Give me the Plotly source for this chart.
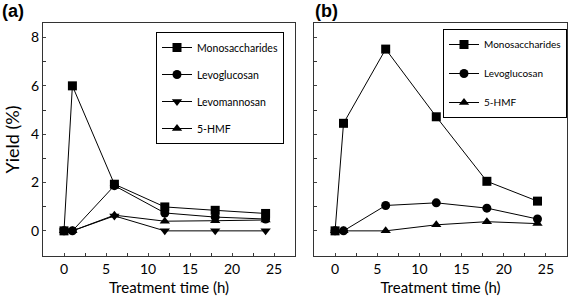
import plotly.graph_objects as go

# ---- data ----
time_a = [0, 1, 6, 12, 18, 24]
mono_a = [0, 6.0, 1.93, 0.99, 0.85, 0.72]
levoglu_a = [0, 0, 1.87, 0.74, 0.57, 0.49]
levoman_a = [0, 0, 0.62, 0, 0, 0]
hmf_a = [0, 0, 0.65, 0.40, 0.42, 0.45]

time_b = [0, 1, 6, 12, 18, 24]
mono_b = [0, 4.45, 7.52, 4.72, 2.05, 1.23]
levoglu_b = [0, 0, 1.05, 1.16, 0.94, 0.49]
hmf_b = [0, 0, 0, 0.25, 0.38, 0.30]

FONT = "Lato"
fig = go.Figure()

def add(x, y, name, symbol, xa, ya, leg, grp):
    fig.add_trace(go.Scatter(
        x=x, y=y, name=name, mode="lines+markers",
        line=dict(color="black", width=1),
        marker=dict(symbol=symbol, size=9, color="black"),
        xaxis=xa, yaxis=ya, legend=leg, legendgroup=grp))

add(time_a, mono_a, "Monosaccharides", "square", "x", "y", "legend", "a1")
add(time_a, levoglu_a, "Levoglucosan", "circle", "x", "y", "legend", "a2")
add(time_a, levoman_a, "Levomannosan", "triangle-down", "x", "y", "legend", "a3")
add(time_a, hmf_a, "5-HMF", "triangle-up", "x", "y", "legend", "a4")

add(time_b, mono_b, "Monosaccharides", "square", "x2", "y2", "legend2", "b1")
add(time_b, levoglu_b, "Levoglucosan", "circle", "x2", "y2", "legend2", "b2")
add(time_b, hmf_b, "5-HMF", "triangle-up", "x2", "y2", "legend2", "b3")

W, H = 568, 296
ydom = [1 - 256 / H, 1 - 23 / H]

xcommon = dict(range=[-2.5, 27.5], dtick=5, tick0=0, ticks="inside", ticklen=3,
               showline=True, mirror=True, linecolor="#333", linewidth=1,
               showgrid=False, zeroline=False, automargin=False,
               tickfont=dict(family=FONT, size=14, color="black"),
               minor=dict(dtick=2.5, ticks="inside", ticklen=3, tickcolor="#333"),
               title=dict(text="Treatment time (h)", font=dict(family=FONT, size=15, color="black"),
                          standoff=6))
ycommon = dict(range=[-1.04, 8.6], dtick=2, tick0=0, ticks="inside", ticklen=3,
               showline=True, mirror=True, linecolor="#333", linewidth=1,
               showgrid=False, zeroline=False, domain=ydom, automargin=False,
               tickfont=dict(family=FONT, size=14, color="black"),
               minor=dict(dtick=1, ticks="inside", ticklen=3, tickcolor="#333"))

fig.update_layout(
    width=W, height=H,
    margin=dict(l=0, r=0, t=0, b=0, autoexpand=False),
    paper_bgcolor="white", plot_bgcolor="white",
    font=dict(family=FONT, color="black"),
    xaxis=dict(xcommon, domain=[43 / W, 295 / W], anchor="y"),
    yaxis=dict(ycommon, anchor="x",
               title=dict(text="Yield (%)", font=dict(family=FONT, size=18, color="black"),
                          standoff=6)),
    xaxis2=dict(xcommon, domain=[314 / W, 567 / W], anchor="y2"),
    yaxis2=dict(ycommon, anchor="x2", showticklabels=False),
    legend=dict(x=156 / W, y=1 - 32 / H, xanchor="left", yanchor="top",
                bordercolor="black", borderwidth=1, bgcolor="white",
                font=dict(family=FONT, size=10.5, color="black"),
                tracegroupgap=8, itemwidth=30),
    legend2=dict(x=567 / W, y=1 - 29 / H, xanchor="right", yanchor="top",
                 bordercolor="black", borderwidth=1, bgcolor="white",
                 font=dict(family=FONT, size=10, color="black"),
                 tracegroupgap=10, itemwidth=30),
    annotations=[
        dict(text="<b>(a)</b>", x=0, y=1.005, xref="paper", yref="paper",
             xanchor="left", yanchor="top", showarrow=False,
             font=dict(family="Liberation Sans", size=18, color="black")),
        dict(text="<b>(b)</b>", x=313 / W, y=1.005, xref="paper", yref="paper",
             xanchor="left", yanchor="top", showarrow=False,
             font=dict(family="Liberation Sans", size=18, color="black")),
    ],
)

fig.write_html("out.html", config={"displayModeBar": False},
               post_script="document.body.style.margin='0px';document.body.style.overflow='hidden';")
